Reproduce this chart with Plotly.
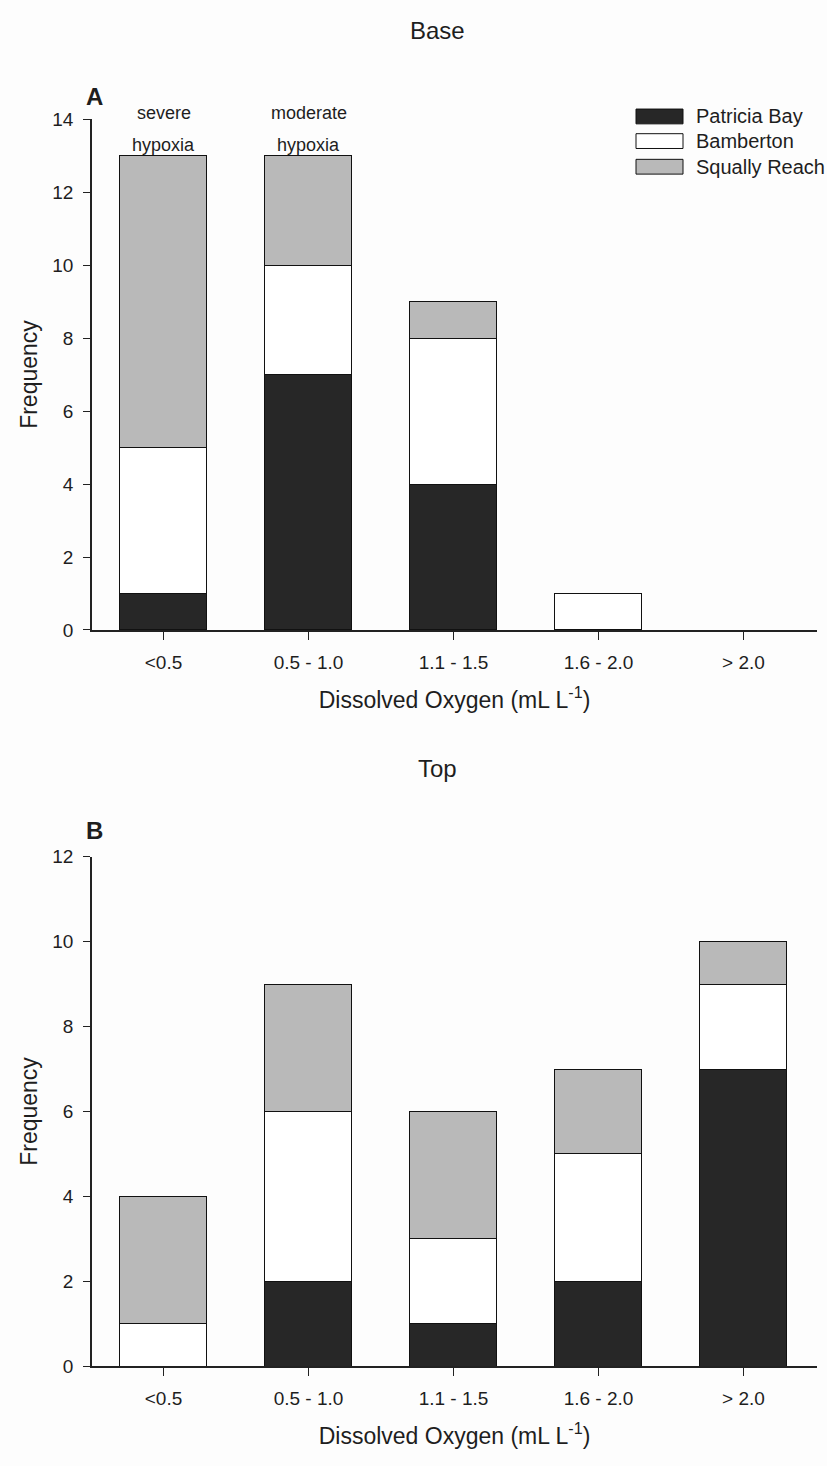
import plotly.graph_objects as go

categories = ["<0.5", "0.5 - 1.0", "1.1 - 1.5", "1.6 - 2.0", "> 2.0"]
series_names = ["Patricia Bay", "Bamberton", "Squally Reach"]

# Panel A (Base)
base_patricia = [1, 7, 4, 0, 0]
base_bamberton = [4, 3, 4, 1, 0]
base_squally = [8, 3, 1, 0, 0]

# Panel B (Top)
top_patricia = [0, 2, 1, 2, 7]
top_bamberton = [1, 4, 2, 3, 2]
top_squally = [3, 3, 3, 2, 1]

colors = {"Patricia Bay": "#272727", "Bamberton": "#ffffff", "Squally Reach": "#b9b9b9"}
FONT = "Liberation Sans, Arial, sans-serif"
TXT = "#1e1e1e"

fig = go.Figure()
x_idx = list(range(len(categories)))


def nz(vals):
    return [v if v else None for v in vals]


for name, vals in zip(series_names, [base_patricia, base_bamberton, base_squally]):
    fig.add_trace(go.Bar(x=x_idx, y=nz(vals), name=name, width=0.6,
                         marker=dict(color=colors[name], line=dict(color="#111111", width=1)),
                         xaxis="x", yaxis="y", showlegend=False))
for name, vals in zip(series_names, [top_patricia, top_bamberton, top_squally]):
    fig.add_trace(go.Bar(x=x_idx, y=nz(vals), name=name, width=0.6,
                         marker=dict(color=colors[name], line=dict(color="#111111", width=1)),
                         xaxis="x2", yaxis="y2", showlegend=False))

xdom = [92 / 827, 817 / 827]
ydomA = [1 - 629 / 1466, 1 - 110.7 / 1466]
ydomB = [1 - 1376 / 1466, 1 - 859 / 1466]

common_x = dict(tickmode="array", tickvals=x_idx, ticktext=categories, range=[-0.493, 4.507],
                showline=True, linecolor="#222222", linewidth=1.5, ticks="outside", ticklen=8,
                tickwidth=1.2, tickcolor="#222222", showgrid=False, zeroline=False,
                ticklabelstandoff=6,
                tickfont=dict(family=FONT, size=19, color=TXT),
                title=dict(text="Dissolved Oxygen (mL L<sup>-1</sup>)", standoff=20,
                           font=dict(family=FONT, size=23, color=TXT)))
common_y = dict(showline=True, linecolor="#222222", linewidth=1.5, ticks="outside", ticklen=7,
                tickwidth=1.2, tickcolor="#222222", showgrid=False, zeroline=False, dtick=2,
                ticklabelstandoff=6,
                tickfont=dict(family=FONT, size=19, color=TXT),
                title=dict(text="Frequency", standoff=8, font=dict(family=FONT, size=23, color=TXT)))

fig.update_layout(
    width=827, height=1466, margin=dict(l=0, r=0, t=0, b=0),
    paper_bgcolor="#fdfdfd", plot_bgcolor="rgba(0,0,0,0)",
    barmode="stack", bargap=0.4,
    xaxis=dict(domain=xdom, anchor="y", **common_x),
    yaxis=dict(domain=ydomA, anchor="x", range=[0, 14], **common_y),
    xaxis2=dict(domain=xdom, anchor="y2", **common_x),
    yaxis2=dict(domain=ydomB, anchor="x2", range=[0, 12], **common_y),
    font=dict(family=FONT, color=TXT),
)


def ann(text, x, y, size=19, bold=False, xanchor="center"):
    fig.add_annotation(text=("<b>%s</b>" % text) if bold else text, x=x / 827, y=1 - y / 1466,
                       xref="paper", yref="paper", showarrow=False, xanchor=xanchor, yanchor="middle",
                       font=dict(family=FONT, size=size, color=TXT))


ann("Base", 437, 21, size=24)
ann("Top", 437, 770, size=24)
ann("A", 94, 88, size=24, bold=True)
ann("B", 94, 832, size=24, bold=True)
ann("severe", 163.5, 104, size=18)
ann("hypoxia", 163.5, 137, size=18)
ann("moderate", 308.5, 104, size=18)
ann("hypoxia", 308.5, 137, size=18)

# custom legend
leg_rows = [108, 133, 159]
for name, yc in zip(series_names, leg_rows):
    fig.add_shape(type="rect", xref="paper", yref="paper",
                  x0=636 / 827, x1=683 / 827, y0=1 - (yc - 7.5) / 1466, y1=1 - (yc + 7.5) / 1466,
                  fillcolor=colors[name], line=dict(color="#111111", width=1))
    ann(name, 694, yc, size=20, xanchor="left")

fig.write_html("out.html")
